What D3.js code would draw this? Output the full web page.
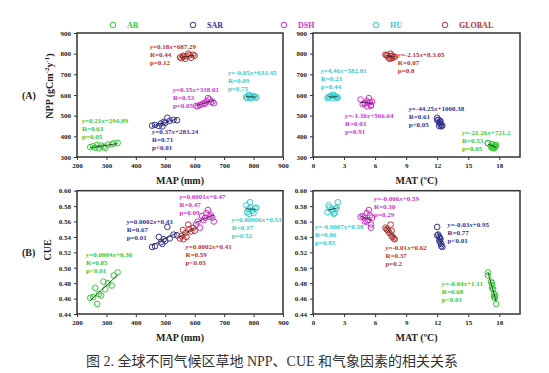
<!DOCTYPE html>
<html lang="zh">
<head>
<meta charset="UTF-8">
<title>NPP CUE climate</title>
<style>
  body { margin: 0; background: #fff; }
  svg { font-family: "Liberation Serif", "Times New Roman", serif; font-weight: bold; }
  .frame { fill: none; stroke: #333; stroke-width: 1.5px; }
  .axis path { display: none; }
  .axis line { stroke: #333; }
  .axis text { font-size: 7px; fill: #222; font-family: "Liberation Serif", serif; font-weight: bold; }
  .dot { fill: none; stroke-width: 1px; }
  .fit { stroke: #222; stroke-width: 0.8px; }
  .note { font-size: 7px; }
  .title { font-size: 10px; fill: #222; }
  .caption { font-family: "Liberation Serif", "Noto Sans CJK SC", serif; font-weight: normal; font-size: 14px; fill: #333; }
</style>
<script src="https://cdn.jsdelivr.net/npm/d3@7"></script>
</head>
<body>
<div id="chart"></div>
<script>
// climate zones
var groups = ["AR", "SAR", "DSH", "HU", "GLOBAL"];

// per site values: MAP (mm), MAT (C), NPP (gCm-2y-1), CUE
var mapAR = [245, 255, 262, 268, 275, 282, 290, 296, 305, 318, 325, 338];
var matAR = [17.6, 17.5, 17.3, 17.7, 17.5, 17.6, 17.2, 17.4, 17.3, 17.3, 16.9, 16.9];
var nppAR = [348, 352, 345, 358, 342, 355, 350, 344, 360, 362, 366, 368];
var cueAR = [0.461, 0.462, 0.474, 0.453, 0.466, 0.464, 0.482, 0.472, 0.480, 0.477, 0.490, 0.494];

var mapSAR = [455, 465, 478, 485, 490, 495, 500, 507, 515, 528, 540];
var matSAR = [12.5, 12.4, 12.2, 12.3, 12.4, 12.3, 12.2, 12.0, 12.3, 12.1, 12.0];
var nppSAR = [452, 455, 450, 462, 448, 470, 465, 490, 475, 480, 478];
var cueSAR = [0.527, 0.528, 0.540, 0.533, 0.531, 0.537, 0.535, 0.553, 0.538, 0.543, 0.542];

var mapDSH = [605, 610, 618, 625, 630, 635, 640, 645, 650, 655, 660, 665];
var matDSH = [5.6, 5.2, 5.6, 4.8, 5.3, 5.0, 5.2, 5.4, 4.6, 5.5, 5.7, 5.0];
var nppDSH = [548, 545, 552, 555, 560, 558, 570, 585, 578, 565, 568, 560];
var cueDSH = [0.556, 0.560, 0.552, 0.567, 0.562, 0.565, 0.571, 0.575, 0.566, 0.568, 0.565, 0.560];

var mapHU = [775, 778, 782, 785, 788, 790, 795, 800, 805, 810];
var matHU = [1.5, 1.4, 1.8, 2.0, 2.4, 1.6, 1.9, 2.1, 2.2, 2.3];
var nppHU = [590, 585, 598, 600, 588, 592, 584, 595, 590, 588];
var cueHU = [0.581, 0.572, 0.576, 0.570, 0.585, 0.578, 0.574, 0.571, 0.577, 0.578];

var mapGLOBAL = [550, 555, 560, 562, 568, 572, 578, 582, 588, 595, 600];
var matGLOBAL = [7.8, 7.6, 7.2, 7.9, 7.4, 7.7, 7.5, 7.1, 7.3, 7.0, 7.6];
var nppGLOBAL = [782, 778, 790, 785, 775, 788, 800, 792, 780, 795, 790];
var cueGLOBAL = [0.538, 0.541, 0.549, 0.537, 0.545, 0.540, 0.556, 0.550, 0.547, 0.552, 0.548];

// axis ticks
var mapTicks = [200, 300, 400, 500, 600, 700, 800, 900];
var matTicks = [0, 3, 6, 9, 12, 15, 18];
var nppTicks = [300, 400, 500, 600, 700, 800, 900];
var cueTicks = [0.44, 0.46, 0.48, 0.50, 0.52, 0.54, 0.56, 0.58, 0.60];

// fitted equations printed in each panel (order follows groups)
var eqMapNpp = ["y=0.21x+294.89", "y=0.37x+283.24", "y=0.35x+338.01", "y=-0.05x+633.45", "y=0.18x+687.29"];
var rMapNpp  = ["R=0.63", "R=0.71", "R=0.53", "R=0.09", "R=0.44"];
var pMapNpp  = ["p=0.05", "p<0.01", "p=0.05", "p=0.75", "p=0.12"];

var eqMatNpp = ["y=-21.26x+721.2", "y=-44.25x+1008.38", "y=-1.30x+566.64", "y=4.46x+582.81", "y=-2.15x+8.3.05"];
var rMatNpp  = ["R=0.53", "R=0.61", "R=0.03", "R=0.23", "R=0.07"];
var pMatNpp  = ["p=0.05", "p<0.05", "p=0.91", "p=0.44", "p=0.8"];

var eqMapCue = ["y=0.0004x+0.36", "y=0.0002x+0.43", "y=0.0001x+0.47", "y=0.00006x+0.53", "y=0.0002x+0.41"];
var rMapCue  = ["R=0.85", "R=0.67", "R=0.47", "R=0.17", "R=0.59"];
var pMapCue  = ["p<0.01", "p=0.01", "p=0.09", "p=0.52", "p<0.05"];

var eqMatCue = ["y=-0.04x+1.11", "y=-0.03x+0.95", "y=-0.006x+0.59", "y=-0.0007x+0.58", "y=-0.01x+0.62"];
var rMatCue  = ["R=0.68", "R=0.77", "R=0.30", "R=0.06", "R=0.37"];
var pMatCue  = ["p<0.01", "p<0.01", "p=0.29", "p=0.85", "p=0.2"];

var colors = { AR: "#33cc33", SAR: "#333399", DSH: "#cc33cc", HU: "#33cccc", GLOBAL: "#b83232" };

var vals = {
  AR: { MAP: mapAR, MAT: matAR, NPP: nppAR, CUE: cueAR },
  SAR: { MAP: mapSAR, MAT: matSAR, NPP: nppSAR, CUE: cueSAR },
  DSH: { MAP: mapDSH, MAT: matDSH, NPP: nppDSH, CUE: cueDSH },
  HU: { MAP: mapHU, MAT: matHU, NPP: nppHU, CUE: cueHU },
  GLOBAL: { MAP: mapGLOBAL, MAT: matGLOBAL, NPP: nppGLOBAL, CUE: cueGLOBAL }
};

var W = 549, H = 373;
var svg = d3.select("#chart").append("svg").attr("width", W).attr("height", H);

// least squares line over the cluster
function fit(xs, ys) {
  var mx = d3.mean(xs), my = d3.mean(ys);
  var sxy = d3.sum(xs, function(v, i) { return (v - mx) * (ys[i] - my); });
  var sxx = d3.sum(xs, function(v) { return (v - mx) * (v - mx); });
  var b = sxy / sxx;
  return function(v) { return my + b * (v - mx); };
}

function panel(cfg) {
  var x = d3.scaleLinear().domain(cfg.xDomain).range([cfg.left, cfg.right]);
  var y = d3.scaleLinear().domain(cfg.yDomain).range([cfg.bottom, cfg.top]);
  var g = svg.append("g");

  g.append("g").attr("class", "axis")
    .attr("transform", "translate(0," + cfg.bottom + ")")
    .call(d3.axisBottom(x).tickValues(cfg.xTicks).tickSize(3).tickPadding(3).tickFormat(d3.format("d")));
  g.append("g").attr("class", "axis")
    .attr("transform", "translate(" + cfg.left + ",0)")
    .call(d3.axisLeft(y).tickValues(cfg.yTicks).tickSize(3).tickPadding(3).tickFormat(cfg.yFmt));

  g.append("rect").attr("class", "frame")
    .attr("x", cfg.left).attr("y", cfg.top)
    .attr("width", cfg.right - cfg.left).attr("height", cfg.bottom - cfg.top);

  groups.forEach(function(k, gi) {
    var xs = vals[k][cfg.xVar], ys = vals[k][cfg.yVar];
    var pts = xs.map(function(v, i) { return [v, ys[i]]; });
    g.selectAll("circle.d" + k).data(pts).enter().append("circle")
      .attr("class", "dot d" + k)
      .attr("r", 2.8)
      .attr("cx", function(d) { return x(d[0]); })
      .attr("cy", function(d) { return y(d[1]); })
      .attr("stroke", colors[k]);

    var f = fit(xs, ys), ext = d3.extent(xs);
    g.append("line").attr("class", "fit")
      .attr("x1", x(ext[0])).attr("y1", y(f(ext[0])))
      .attr("x2", x(ext[1])).attr("y2", y(f(ext[1])));

    // equation block
    var pos = cfg.notes[gi];
    var t = g.append("text").attr("class", "note").attr("fill", colors[k])
      .attr("x", x(pos[0])).attr("y", y(pos[1]));
    var eq = cfg.eq[gi];
    var xi = eq.indexOf("x");
    t.append("tspan").attr("font-style", "italic").text("y");
    t.append("tspan").text(eq.slice(1, xi));
    t.append("tspan").attr("font-style", "italic").text("x");
    t.append("tspan").text(eq.slice(xi + 1));
    [cfg.r[gi], cfg.p[gi]].forEach(function(s, j) {
      g.append("text").attr("class", "note").attr("fill", colors[k])
        .attr("x", x(pos[0])).attr("y", y(pos[1]) + 8 * (j + 1)).text(s);
    });
  });

  g.append("text").attr("class", "title")
    .attr("x", (cfg.left + cfg.right) / 2).attr("y", cfg.bottom + 27)
    .attr("text-anchor", "middle").text(cfg.xTitle);
  return g;
}

var rowA = { top: 33, bottom: 157 }, rowB = { top: 190.7, bottom: 314 };
var colL = { left: 77, right: 283 }, colR = { left: 313, right: 520 };
var fmtInt = d3.format("d"), fmtCue = d3.format(".2f");

panel({ left: colL.left, right: colL.right, top: rowA.top, bottom: rowA.bottom,
  xDomain: [200, 900], yDomain: [300, 900], xTicks: mapTicks, yTicks: nppTicks, yFmt: fmtInt,
  xVar: "MAP", yVar: "NPP", xTitle: "MAP (mm)",
  eq: eqMapNpp, r: rMapNpp, p: pMapNpp,
  notes: [[217, 465], [455, 411], [526, 616], [713, 697], [448, 823]] });

panel({ left: colR.left, right: colR.right, top: rowA.top, bottom: rowA.bottom,
  xDomain: [0, 20], yDomain: [300, 900], xTicks: matTicks, yTicks: nppTicks, yFmt: fmtInt,
  xVar: "MAT", yVar: "NPP", xTitle: "MAT (\u00baC)",
  eq: eqMatNpp, r: rMatNpp, p: pMatNpp,
  notes: [[14.4, 406], [9.25, 521], [3.1, 487], [0.75, 705], [8.2, 785]] });

panel({ left: colL.left, right: colL.right, top: rowB.top, bottom: rowB.bottom,
  xDomain: [200, 900], yDomain: [0.44, 0.60], xTicks: mapTicks, yTicks: cueTicks, yFmt: fmtCue,
  xVar: "MAP", yVar: "CUE", xTitle: "MAP (mm)",
  eq: eqMapCue, r: rMapCue, p: pMapCue,
  notes: [[231, 0.514], [369, 0.557], [548, 0.589], [726, 0.559], [569, 0.524]] });

panel({ left: colR.left, right: colR.right, top: rowB.top, bottom: rowB.bottom,
  xDomain: [0, 20], yDomain: [0.44, 0.60], xTicks: matTicks, yTicks: cueTicks, yFmt: fmtCue,
  xVar: "MAT", yVar: "CUE", xTitle: "MAT (\u00baC)",
  eq: eqMatCue, r: rMatCue, p: pMatCue,
  notes: [[12.45, 0.476], [13.0, 0.553], [5.9, 0.587], [0.2, 0.550], [7.0, 0.523]] });

// legend
var legendX = [113, 193, 284, 376, 445];
groups.forEach(function(k, i) {
  svg.append("circle").attr("class", "dot").attr("stroke", colors[k])
    .attr("cx", legendX[i]).attr("cy", 25).attr("r", 2.8);
  svg.append("text").attr("x", legendX[i] + 14).attr("y", 28)
    .attr("font-size", 8).attr("fill", colors[k]).text(k);
});

// y titles and panel tags
var npp = svg.append("text").attr("class", "title").attr("font-size", 11)
  .attr("transform", "translate(53,86) rotate(-90)").attr("text-anchor", "middle");
npp.append("tspan").text("NPP (gCm");
npp.append("tspan").attr("dy", -4).attr("font-size", 7).text("-2");
npp.append("tspan").attr("dy", 4).text("y");
npp.append("tspan").attr("dy", -4).attr("font-size", 7).text("-1");
npp.append("tspan").attr("dy", 4).text(")");

svg.append("text").attr("class", "title")
  .attr("transform", "translate(51,250) rotate(-90)").attr("text-anchor", "middle").text("CUE");

svg.append("text").attr("class", "title").attr("x", 22).attr("y", 99).text("(A)");
svg.append("text").attr("class", "title").attr("x", 22).attr("y", 256).text("(B)");

svg.append("text").attr("class", "caption").attr("x", 272).attr("y", 366)
  .attr("text-anchor", "middle").text("图 2. 全球不同气候区草地 NPP、CUE 和气象因素的相关关系");
</script>
</body>
</html>
